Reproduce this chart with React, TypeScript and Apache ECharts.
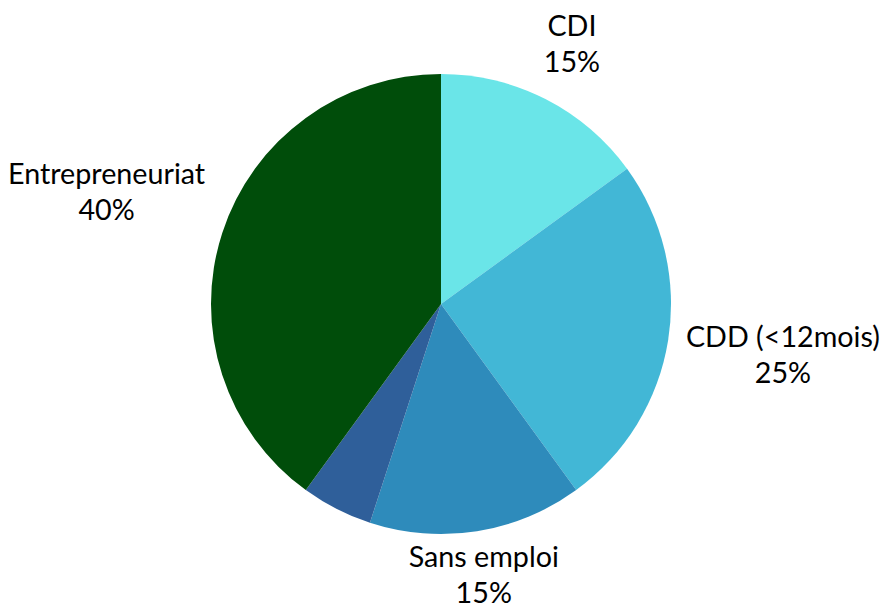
import React, { useEffect, useRef } from "react";
import * as echarts from "echarts";

const categories = ["CDI", "CDD (<12mois)", "Sans emploi", "Autre", "Entrepreneuriat"];
const values = [15, 25, 15, 5, 40];
const colors = ["#6AE5E8", "#42B7D6", "#2E8BBB", "#2F5F9A", "#004D0A"];
const showLabel = [true, true, true, false, true];

const W = 884;
const H = 606;
const CX = 441;
const CY = 304;
const R = 230;
const GAP = 18;
const Y_SHIFT = -4;
const MAX_LABEL_Y = H - 32;

export default function App() {
  const ref = useRef<HTMLDivElement>(null);
  useEffect(() => {
    if (!ref.current) return;
    const chart = echarts.init(ref.current, null, { renderer: "svg" });
    const total = values.reduce((a, b) => a + b, 0);
    const starts: number[] = [];
    let acc = 0;
    values.forEach((v) => {
      starts.push(acc);
      acc += v;
    });
    chart.setOption({
      animation: false,
      backgroundColor: "#ffffff",
      series: [
        {
          type: "pie",
          center: [CX, CY],
          radius: R,
          startAngle: 90,
          clockwise: true,
          avoidLabelOverlap: false,
          itemStyle: { borderWidth: 0 },
          label: {
            show: true,
            position: "outside",
            formatter: (p: any) => `${p.name}\n${p.value}%`,
            fontFamily: "Lato",
            fontSize: 28.7,
            lineHeight: 36,
            color: "#000000",
            align: "center",
          },
          labelLine: { show: false },
          labelLayout: (params: any) => {
            const i = params.dataIndex;
            const mid = ((starts[i] + values[i] / 2) / total) * Math.PI * 2;
            const dx = Math.sin(mid);
            const dy = -Math.cos(mid);
            const w = params.labelRect.width / 2;
            const h = params.labelRect.height / 2;
            const ext = Math.min(
              Math.abs(dx) > 1e-6 ? w / Math.abs(dx) : Infinity,
              Math.abs(dy) > 1e-6 ? h / Math.abs(dy) : Infinity
            );
            let d = R + GAP + ext;
            let y = CY + dy * d + Y_SHIFT;
            if (y > MAX_LABEL_Y) {
              d = (MAX_LABEL_Y - CY) / dy;
              y = MAX_LABEL_Y;
            }
            return {
              x: CX + dx * d,
              y,
              align: "center",
              verticalAlign: "middle",
            };
          },
          data: categories.map((name, i) => ({
            name,
            value: values[i],
            itemStyle: { color: colors[i] },
            label: { show: showLabel[i] },
          })),
        },
      ],
    });
    return () => chart.dispose();
  }, []);
  return (
    <div
      ref={ref}
      style={{ position: "fixed", left: 0, top: 0, width: W, height: H }}
    />
  );
}
